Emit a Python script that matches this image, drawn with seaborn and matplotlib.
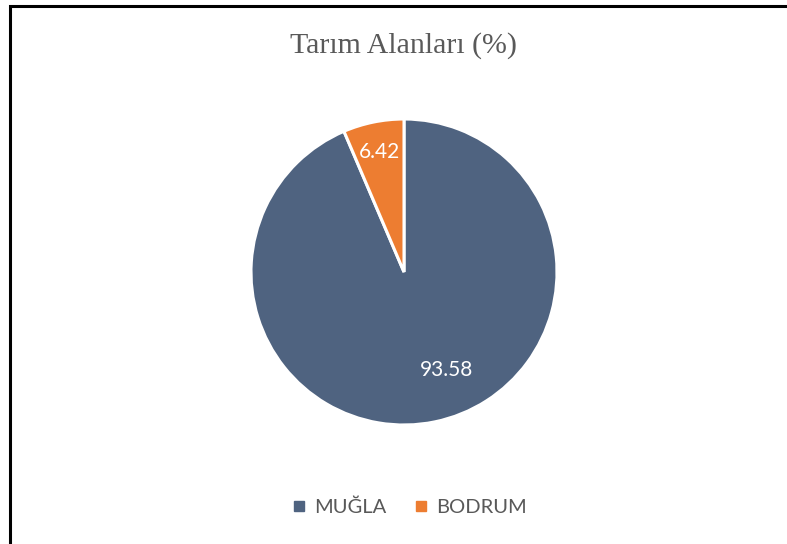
import matplotlib
matplotlib.use("Agg")
import matplotlib.pyplot as plt
from matplotlib.patches import Rectangle
from matplotlib.lines import Line2D
import seaborn as sns

# Veriler
kategoriler = ["MUĞLA", "BODRUM"]
degerler = [93.58, 6.42]
renkler = ["#4F6380", "#ED7D31"]
baslik = "Tarım Alanları (%)"

sns.set_theme(style="white")
plt.rcParams["font.family"] = ["Lato", "DejaVu Sans"]

fig = plt.figure(figsize=(7.87, 5.44), dpi=100)
fig.patch.set_facecolor("white")

# pasta grafiği
ax = fig.add_axes([251 / 787, 119 / 544, 306 / 787, 306 / 544])
wedges, texts, autotexts = ax.pie(
    degerler,
    colors=renkler,
    startangle=90,
    counterclock=False,
    autopct="%.2f",
    pctdistance=0.80,
    wedgeprops={"edgecolor": "white", "linewidth": 2.2},
    textprops={"color": "white", "fontsize": 15},
)
# Excel etiket yerleşimine yaklaştır
autotexts[0].set_position((0.275, -0.64))
ax.set_xlim(-1, 1)
ax.set_ylim(-1, 1)
ax.set_aspect("equal")
ax.axis("off")

fig.text(404 / 787, 1 - 46 / 544, baslik, ha="center", va="center",
         fontsize=21.5, color="#595959", family=["Liberation Serif", "DejaVu Serif"])

# lejant
handles = [Line2D([0], [0], marker="s", linestyle="none", markersize=6.5,
                  markerfacecolor=c, markeredgecolor=c) for c in renkler]
fig.legend(handles, kategoriler, loc="center", bbox_to_anchor=(409 / 787, 1 - 507 / 544),
           ncol=2, frameon=False, handlelength=0.8, handletextpad=0.35, columnspacing=1.3,
           prop={"size": 14.5}, labelcolor="#595959")

# çerçeve
frame = Rectangle((9.5 / 787, -0.1), 2, 1 - 5.5 / 544 + 0.1, transform=fig.transFigure,
                  fill=False, edgecolor="black", linewidth=2.2, clip_on=False)
fig.patches.append(frame)

fig.savefig("out.png", dpi=100)
